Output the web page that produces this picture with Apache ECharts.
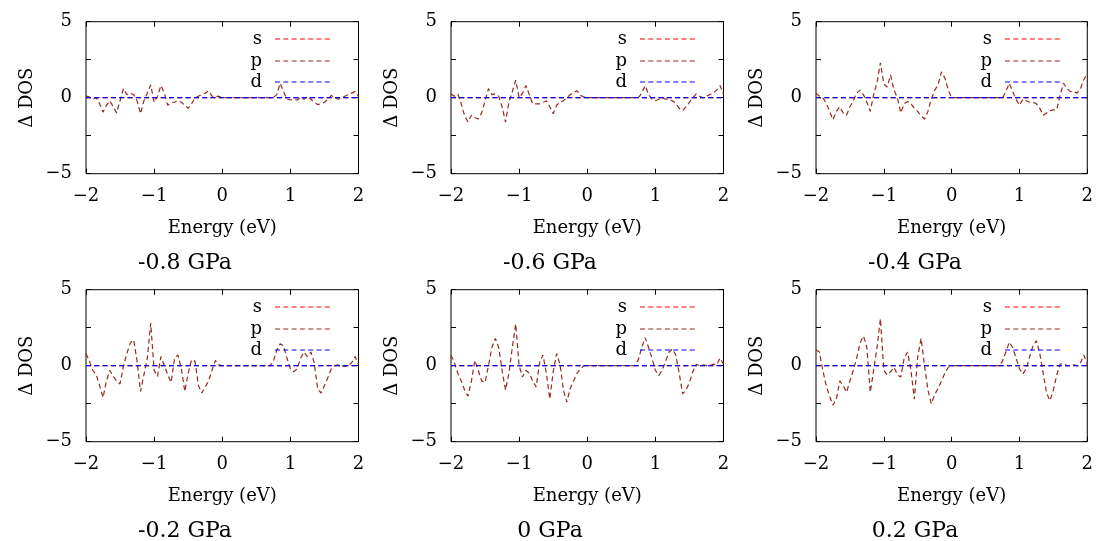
<!DOCTYPE html>
<html>
<head>
<meta charset="utf-8">
<script src="https://cdn.jsdelivr.net/npm/echarts@6/dist/echarts.min.js"></script>
<style>
  html, body { margin: 0; padding: 0; background: #fff; }
  #chart { width: 1096px; height: 541px; }
</style>
</head>
<body>
<div id="chart"></div>
<script>
// Energy grid (eV) shared by every panel
const energy = [
  -2.00,-1.95,-1.90,-1.85,-1.80,-1.75,-1.70,-1.65,-1.60,-1.55,
  -1.50,-1.45,-1.40,-1.35,-1.30,-1.25,-1.20,-1.15,-1.10,-1.05,
  -1.00,-0.95,-0.90,-0.85,-0.80,-0.75,-0.70,-0.65,-0.60,-0.55,
  -0.50,-0.45,-0.40,-0.35,-0.30,-0.25,-0.20,-0.15,-0.10,-0.05,
   0.00, 0.05, 0.10, 0.15, 0.20, 0.25, 0.30, 0.35, 0.40, 0.45,
   0.50, 0.55, 0.60, 0.65, 0.70, 0.75, 0.80, 0.85, 0.90, 0.95,
   1.00, 1.05, 1.10, 1.15, 1.20, 1.25, 1.30, 1.35, 1.40, 1.45,
   1.50, 1.55, 1.60, 1.65, 1.70, 1.75, 1.80, 1.85, 1.90, 1.95,
   2.00
];

const pressures = ['-0.8 GPa', '-0.6 GPa', '-0.4 GPa', '-0.2 GPa', '0 GPa', '0.2 GPa'];
const orbitals = ['s', 'p', 'd'];

// s- and d-projected differences stay on the zero line
const sDos = [
  0,0,0,0,0,0,0,0,0,0, 0,0,0,0,0,0,0,0,0,0, 0,0,0,0,0,0,0,0,0,0, 0,0,0,0,0,0,0,0,0,0,
  0,0,0,0,0,0,0,0,0,0, 0,0,0,0,0,0,0,0,0,0, 0,0,0,0,0,0,0,0,0,0, 0,0,0,0,0,0,0,0,0,0,
  0
];
const dDos = [
  0,0,0,0,0,0,0,0,0,0, 0,0,0,0,0,0,0,0,0,0, 0,0,0,0,0,0,0,0,0,0, 0,0,0,0,0,0,0,0,0,0,
  0,0,0,0,0,0,0,0,0,0, 0,0,0,0,0,0,0,0,0,0, 0,0,0,0,0,0,0,0,0,0, 0,0,0,0,0,0,0,0,0,0,
  0
];

// p-projected ΔDOS for each pressure
const pDosM08 = [
  0.1, 0.05, -0.1, 0.0, -0.4, -0.95, -0.5, -0.2, -0.6, -1.0,
  -0.2, 0.6, 0.2, 0.3, 0.2, -0.2, -1.05, -0.2, 0.3, 0.85,
  -0.3, 0.1, 0.8, 0.3, -0.5, -0.3, -0.3, -0.2, -0.3, -0.5,
  -0.7, -0.4, 0.0, 0.1, 0.2, 0.3, 0.45, 0.1, 0.05, 0.1,
  0, 0, 0, 0, 0, 0, 0, 0, 0, 0,
  0, 0, 0, 0, 0, 0, 0.2, 0.95, 0.4, -0.1,
  -0.15, -0.1, -0.15, 0.0, -0.1, 0.1, -0.1, -0.3, -0.45, -0.4,
  -0.3, -0.1, 0.15, 0.0, -0.1, 0.0, 0.1, 0.2, 0.3, 0.4,
  0.1
];
const pDosM06 = [
  0.25, 0.1, 0.25, -0.4, -1.2, -1.6, -1.15, -1.3, -1.4, -1.0,
  -0.2, 0.6, 0.2, 0.25, 0.1, -0.6, -1.6, -0.3, 0.4, 1.15,
  0.0, 0.3, 0.8, 0.2, -0.4, -0.4, -0.4, -0.3, -0.2, -0.6,
  -1.05, -0.5, -0.3, -0.2, 0.0, 0.2, 0.35, 0.45, 0.15, 0.05,
  0, 0, 0, 0, 0, 0, 0, 0, 0, 0,
  0, 0, 0, 0, 0, 0, 0.3, 0.8, 0.2, -0.1,
  -0.2, -0.1, 0.0, -0.1, -0.1, -0.2, -0.4, -0.7, -0.85, -0.6,
  -0.3, 0.0, 0.25, 0.1, 0.0, 0.1, 0.2, 0.3, 0.5, 0.8,
  0.2
];
const pDosM04 = [
  0.3, 0.1, 0.0, -0.35, -0.9, -1.45, -0.9, -0.6, -1.0, -1.15,
  -0.6, -0.2, 0.3, 0.5, 0.2, -0.3, -0.9, 0.2, 1.0, 2.3,
  0.9, 0.7, 1.5, 0.5, 0.0, -1.0, -0.4, -0.25, -0.4, -0.7,
  -0.9, -1.2, -1.4, -0.9, -0.1, 0.5, 0.85, 1.7, 1.3, 0.5,
  0, 0, 0, 0, 0, 0, 0, 0, 0, 0,
  0, 0, 0, 0, 0, 0, 0.4, 0.95, 0.4, -0.1,
  -0.5, -0.1, -0.2, -0.3, -0.3, -0.4, -0.7, -1.15, -1.0, -0.85,
  -0.8, -0.8, 0.2, 0.95, 0.6, 0.4, 0.4, 0.3, 0.6, 1.2,
  1.6
];
const pDosM02 = [
  0.8, 0.3, -0.3, -0.6, -1.3, -2.1, -1.0, -0.3, -0.7, -1.0,
  -1.2, 0.0, 0.8, 1.5, 1.7, 0.3, -1.7, -0.6, 0.5, 2.8,
  -0.3, -0.7, 0.6, 0.0, -0.6, -1.1, 0.5, 0.7, -0.2, -1.7,
  -0.5, 0.4, 0.3, -1.3, -1.8, -1.4, -1.0, -0.3, 0.35, 0.05,
  0, 0, 0, 0, 0, 0, 0, 0, 0, 0,
  0, 0, 0, 0, 0, 0.3, 1.0, 1.45, 1.3, 0.5,
  -0.2, -0.4, -0.2, 0.5, 0.9, 0.6, 0.9, 0.2, -1.5, -1.8,
  -1.3, -0.8, -0.2, 0.0, 0.05, 0.0, -0.05, 0.0, 0.2, 0.6,
  0.1
];
const pDos00 = [
  0.7, 0.2, -0.5, -1.0, -1.6, -2.0, -1.0, 0.35, -0.3, -1.0,
  -1.1, 0.0, 1.2, 1.8, 1.2, -0.3, -1.6, -0.5, 1.2, 2.75,
  0.0, -0.75, -0.3, -0.5, -1.0, -1.4, 0.2, 0.7, -0.5, -2.2,
  -0.4, 0.8, 0.1, -1.6, -2.4, -1.5, -1.0, -0.5, -0.2, 0.0,
  0, 0, 0, 0, 0, 0, 0, 0, 0, 0,
  0, 0, 0, 0, 0, 0.4, 1.2, 1.85, 1.2, 0.5,
  -0.3, -0.65, -0.3, 0.3, 0.9, 1.1, 0.7, -0.5, -1.85, -1.6,
  -1.1, -0.4, 0.1, 0.0, 0.05, 0.0, 0.0, 0.1, 0.05, 0.5,
  0.1
];
const pDosP02 = [
  1.05, 0.9, -0.3, -1.3, -2.0, -2.6, -2.2, -1.0, -1.3, -1.75,
  -1.0, -0.3, 0.5, 1.5, 1.95, 1.2, -1.75, -0.3, 1.2, 3.1,
  -0.3, -0.6, -0.4, -0.1, -0.6, -0.75, 0.5, 0.9, -0.3, -2.2,
  0.6, 1.8, 0.0, -1.6, -2.5, -1.9, -1.5, -1.0, -0.5, -0.1,
  0, 0, 0, 0, 0, 0, 0, 0, 0, 0,
  0, 0, 0, 0, 0, 0.3, 0.9, 1.55, 1.2, 0.5,
  -0.2, -0.55, -0.2, 0.6, 1.3, 1.65, 0.8, -0.5, -1.8, -2.3,
  -1.6, -0.6, 0.1, 0.15, 0.0, 0.0, 0.05, 0.0, 0.2, 0.7,
  0.1
];

const pDosByPanel = [pDosM08, pDosM06, pDosM04, pDosM02, pDos00, pDosP02];

const xTicks = { min: -2, max: 2, interval: 1 };
const yTicks = { min: -5, max: 5, interval: 2.5 };

// ---- styling ----
const FONT = '"DejaVu Serif", "Liberation Serif", serif';
const colors = { s: '#ff0000', p: '#962a1e', d: '#0000ff' };
const dash = [5, 3.3];
const minus = v => (v < 0 ? '\u2212' + Math.abs(v) : String(v));

const PLOT_W = 272.5, PLOT_H = 152;
const panelLeft = c => 86 + 365 * c;
const panelTop = r => 21.7 + 268 * r;

const grid = [], xAxis = [], yAxis = [], series = [], graphic = [];

pressures.forEach((label, k) => {
  const r = Math.floor(k / 3), c = k % 3;
  const L = panelLeft(c), T = panelTop(r);
  grid.push({ left: L, top: T, width: PLOT_W, height: PLOT_H,
    show: true, borderColor: '#000', borderWidth: 1, backgroundColor: 'transparent' });

  const tickStyle = { show: true, inside: true, length: 5, lineStyle: { color: '#000', width: 1 } };
  const hiddenLine = { show: false, onZero: false };
  xAxis.push({
    gridIndex: k, type: 'value', position: 'bottom', ...xTicks,
    name: 'Energy (eV)', nameLocation: 'middle', nameGap: 46,
    nameTextStyle: { fontFamily: FONT, fontSize: 18, color: '#000' },
    axisLine: hiddenLine, axisTick: tickStyle, splitLine: { show: false },
    axisLabel: { fontFamily: FONT, fontSize: 18, color: '#000', margin: 14, formatter: minus }
  });
  xAxis.push({
    gridIndex: k, type: 'value', position: 'top', ...xTicks,
    axisLine: hiddenLine, axisTick: tickStyle, splitLine: { show: false },
    axisLabel: { show: false }
  });
  yAxis.push({
    gridIndex: k, type: 'value', position: 'left', ...yTicks,
    name: '\u0394 DOS', nameLocation: 'middle', nameGap: 50, nameRotate: 90,
    nameTextStyle: { fontFamily: FONT, fontSize: 18, color: '#000' },
    axisLine: hiddenLine, axisTick: tickStyle, splitLine: { show: false },
    axisLabel: { fontFamily: FONT, fontSize: 18, color: '#000', margin: 14,
      formatter: v => (v % 5 === 0 ? minus(v) : '') }
  });
  yAxis.push({
    gridIndex: k, type: 'value', position: 'right', ...yTicks,
    axisLine: hiddenLine, axisTick: tickStyle, splitLine: { show: false },
    axisLabel: { show: false }
  });

  const values = { s: sDos, p: pDosByPanel[k], d: dDos };
  orbitals.forEach((o, j) => {
    series.push({
      type: 'line', name: o, xAxisIndex: 2 * k, yAxisIndex: 2 * k,
      data: energy.map((e, i) => [e, values[o][i]]),
      showSymbol: false, symbol: 'none', smooth: false, z: 2 + j,
      lineStyle: { color: colors[o], width: 1.2, type: dash },
      silent: true
    });
    // key entry: label + dashed sample
    const ky = Math.round(T + 17.6 + 21.4 * j);
    graphic.push({ type: 'text', x: L + 176, y: ky, z: 10,
      style: { text: o, font: '18px ' + FONT, fill: '#000', align: 'right', verticalAlign: 'middle' } });
    graphic.push({ type: 'line', z: 10,
      shape: { x1: L + 189, y1: ky, x2: L + 247, y2: ky },
      style: { stroke: colors[o], lineWidth: 1.2, lineDash: dash } });
  });

  // pressure caption under each panel
  graphic.push({ type: 'text', x: L + 99, y: T + 241.5, z: 10,
    style: { text: label, font: '22px ' + FONT, fill: '#000', align: 'center', verticalAlign: 'middle' } });
});

const chart = echarts.init(document.getElementById('chart'), null, { renderer: 'canvas' });
chart.setOption({
  animation: false,
  backgroundColor: '#fff',
  grid, xAxis, yAxis, series, graphic
});
</script>
</body>
</html>
